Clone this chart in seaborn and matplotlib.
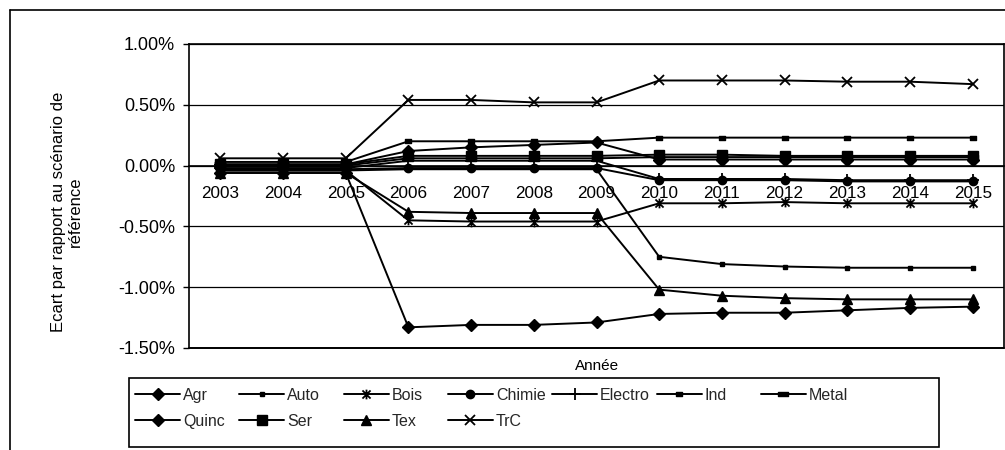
import matplotlib
matplotlib.use("Agg")
import matplotlib.pyplot as plt
import seaborn as sns
import pandas as pd
import numpy as np
from matplotlib import font_manager
from matplotlib.lines import Line2D
from matplotlib.patches import Rectangle
from matplotlib.path import Path
from matplotlib.ticker import FuncFormatter, FixedLocator

# ---------------- data (values in %) ----------------
years = ["2003", "2004", "2005", "2006", "2007", "2008", "2009",
         "2010", "2011", "2012", "2013", "2014", "2015"]

agr = [-0.06, -0.06, -0.06, -1.33, -1.31, -1.31, -1.29, -1.22, -1.21, -1.21, -1.19, -1.17, -1.16]
auto = [-0.04, -0.04, -0.04, -0.03, -0.03, -0.03, -0.03, -0.75, -0.81, -0.83, -0.84, -0.84, -0.84]
bois = [-0.04, -0.04, -0.04, -0.45, -0.46, -0.46, -0.46, -0.31, -0.31, -0.30, -0.31, -0.31, -0.31]
chimie = [-0.03, -0.03, -0.03, -0.02, -0.02, -0.02, -0.02, -0.12, -0.12, -0.12, -0.13, -0.13, -0.13]
electro = [-0.02, -0.02, -0.02, 0.04, 0.04, 0.04, 0.04, -0.11, -0.11, -0.11, -0.12, -0.12, -0.12]
ind = [0.03, 0.03, 0.03, 0.20, 0.20, 0.20, 0.20, 0.23, 0.23, 0.23, 0.23, 0.23, 0.23]
metal = [0.00, 0.00, 0.00, 0.06, 0.06, 0.06, 0.06, 0.07, 0.07, 0.07, 0.07, 0.07, 0.07]
quinc = [0.01, 0.01, 0.01, 0.12, 0.15, 0.17, 0.19, 0.05, 0.05, 0.05, 0.05, 0.05, 0.05]
ser = [0.01, 0.01, 0.01, 0.08, 0.08, 0.08, 0.08, 0.09, 0.09, 0.08, 0.08, 0.08, 0.08]
tex = [-0.06, -0.06, -0.06, -0.38, -0.39, -0.39, -0.39, -1.02, -1.07, -1.09, -1.10, -1.10, -1.10]
trc = [0.06, 0.06, 0.06, 0.54, 0.54, 0.52, 0.52, 0.70, 0.70, 0.70, 0.69, 0.69, 0.67]

series_names = ["Agr", "Auto", "Bois", "Chimie", "Electro", "Ind", "Metal",
                "Quinc", "Ser", "Tex", "TrC"]
series_values = [agr, auto, bois, chimie, electro, ind, metal, quinc, ser, tex, trc]

y_ticks = [-1.5, -1.0, -0.5, 0.0, 0.5, 1.0]

# ---------------- style ----------------
sns.set_theme(style="white")
names = {f.name for f in font_manager.fontManager.ttflist}
base = "Liberation Sans" if "Liberation Sans" in names else "DejaVu Sans"
narrow = "Liberation Sans Narrow" if "Liberation Sans Narrow" in names else base
plt.rcParams["font.family"] = [base, "DejaVu Sans"]

M, L = Path.MOVETO, Path.LINETO
star = Path([(-1, -1), (1, 1), (-1, 1), (1, -1), (0, -1.2), (0, 1.2)],
            [M, L, M, L, M, L])
rect_small = Path([(-1, -0.6), (1, -0.6), (1, 0.6), (-1, 0.6), (-1, -0.6)],
                  [M, L, L, L, Path.CLOSEPOLY])
rect_wide = Path([(-1, -0.5), (1, -0.5), (1, 0.5), (-1, 0.5), (-1, -0.5)],
                 [M, L, L, L, Path.CLOSEPOLY])

markers = {
    "Agr": ("D", 6.0, 1.0),
    "Auto": ("s", 3.5, 1.0),
    "Bois": (star, 7.0, 1.3),
    "Chimie": ("o", 6.0, 1.0),
    "Electro": ("+", 9.0, 1.3),
    "Ind": (rect_small, 5.0, 1.0),
    "Metal": (rect_wide, 7.0, 1.0),
    "Quinc": ("D", 6.0, 1.0),
    "Ser": ("s", 7.0, 1.0),
    "Tex": ("^", 7.5, 1.0),
    "TrC": ("x", 7.5, 1.3),
}

W, H = 1005, 450
fig = plt.figure(figsize=(W / 100, H / 100), dpi=100)
ax = fig.add_axes([189 / W, 1 - 348 / H, (1004 - 189) / W, (348 - 44) / H])

handles = {}
for name, vals in zip(series_names, series_values):
    df = pd.DataFrame({"x": np.arange(len(years)), "y": vals})
    mk, ms, mew = markers[name]
    sns.lineplot(data=df, x="x", y="y", ax=ax, color="black", linewidth=1.4,
                 marker=mk, markersize=ms, markeredgewidth=mew,
                 markerfacecolor="black", markeredgecolor="black",
                 legend=False, zorder=2)
    line = ax.lines[-1]
    line.set_label(name)
    handles[name] = line

ax.set_xlim(-0.5, len(years) - 0.5)
ax.set_ylim(-1.5, 1.0)
ax.set_yticks(y_ticks)
ax.yaxis.set_major_formatter(FuncFormatter(lambda v, p: f"{v:.2f}%"))
ax.yaxis.grid(True, color="black", linewidth=0.9)
ax.set_axisbelow(False)

ax.set_xticks(np.arange(len(years)))
ax.set_xticklabels(years)
ax.xaxis.set_minor_locator(FixedLocator(np.arange(-0.5, len(years), 1.0)))
ax.tick_params(axis="x", which="major", length=0, pad=14.5, labelsize=12.3, colors="black")
ax.tick_params(axis="x", which="minor", length=4.5, width=1, direction="out", color="black")
ax.tick_params(axis="y", which="major", length=4, width=1, direction="out",
               pad=6, labelsize=13, colors="black", left=True)

for s in ["left", "top", "right"]:
    ax.spines[s].set_color("black")
    ax.spines[s].set_linewidth(1.2)
ax.spines["bottom"].set_position(("data", 0))
ax.spines["bottom"].set_color("black")
ax.spines["bottom"].set_linewidth(1.2)
ax.axhline(-1.5, color="black", linewidth=1.4, clip_on=False, zorder=2)

ax.set_xlabel("")
ax.set_ylabel("")

fig.text(67 / W, 1 - 212 / H, "Ecart par rapport au scénario de\nréférence",
         rotation=90, ha="center", va="center", multialignment="center",
         fontsize=12, family=[narrow, "DejaVu Sans"], color="black",
         linespacing=1.2)
fig.text(597 / W, 1 - 366 / H, "Année", ha="center", va="center",
         fontsize=11, color="black")

# legend: 7 equal-width columns, 2 rows, drawn column by column
legend_cols = [["Agr", "Quinc"], ["Auto", "Ser"], ["Bois", "Tex"], ["Chimie", "TrC"],
               ["Electro"], ["Ind"], ["Metal"]]
fs = 11.5
em = fs * 100 / 72
for c, col in enumerate(legend_cols):
    x0 = 135 + 104.3 * c
    lg = fig.legend([handles[n] for n in col], col, loc="upper left",
                    bbox_to_anchor=(x0 / W, 1 - 388 / H),
                    bbox_transform=fig.transFigure, frameon=False,
                    handlelength=45 / em, handletextpad=3 / em,
                    labelspacing=0.68, borderpad=0, borderaxespad=0,
                    prop={"family": [narrow, "DejaVu Sans"], "size": fs})
fig.add_artist(Rectangle((129 / W, 1 - 447 / H), (939 - 129) / W, (447 - 378) / H,
                         transform=fig.transFigure, fill=False,
                         edgecolor="black", linewidth=1.2))

fig.add_artist(Line2D([10 / W, 1.0], [1 - 10 / H, 1 - 10 / H],
                      transform=fig.transFigure, color="black", linewidth=1.2))
fig.add_artist(Line2D([10 / W, 10 / W], [0.0, 1 - 10 / H],
                      transform=fig.transFigure, color="black", linewidth=1.2))

fig.savefig("out.png", dpi=100)
